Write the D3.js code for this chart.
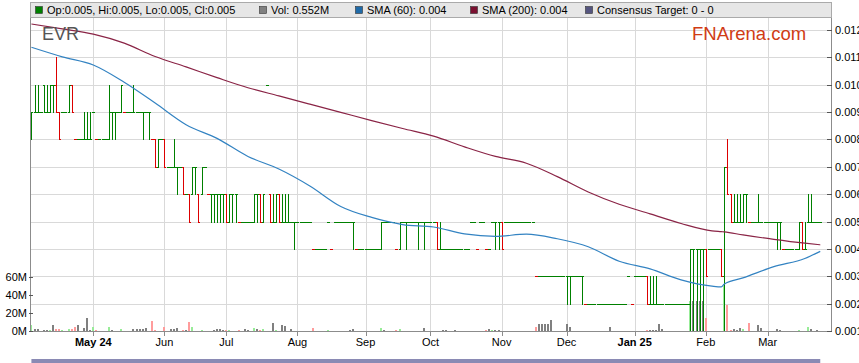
<!DOCTYPE html>
<html>
<head>
<meta charset="utf-8">
<script src="https://cdnjs.cloudflare.com/ajax/libs/d3/7.8.5/d3.min.js"></script>
<style>
  body { margin: 0; background: #fff; }
  svg { display: block; font-family: "Liberation Sans", Arial, sans-serif; }
</style>
</head>
<body>
<svg id="chart" width="859" height="363"></svg>
<script>
// prices are in units of 0.001 (one tick), volumes in millions of shares
const firstDay = new Date(2024, 3, 3); // trading days run weekday by weekday from here
const unit = 0.001;

const open = [
  8,9,9,9,10,9,9,10,10,9,  9,9,9,10,8,8,8,8,8,8,  9,8,8,8,8,8,9,9,9,9,  9,9,9,9,9,9,9,9,9,8,
  8,7,8,8,7,7,7,7,7,7,  6,6,6,7,6,6,7,6,6,6,  6,6,6,6,5,6,6,5,5,5,  5,5,5,6,6,5,10,6,5,5,
  6,5,5,5,5,5,5,5,5,5,  5,4,4,4,4,4,5,4,5,5,  5,5,5,5,5,4,4,4,4,4,  4,4,4,4,5,5,5,5,4,4,
  5,5,5,5,5,5,5,5,5,5,  5,5,4,4,4,4,4,4,4,4,  4,4,5,5,4,5,5,4,4,5,  5,5,5,5,5,5,5,5,5,5,
  5,5,5,3,3,3,3,3,3,3,  3,3,3,3,3,3,3,3,3,2,  2,2,2,2,2,2,2,2,2,2,  2,2,2,3,2,3,3,3,3,3,
  2,2,2,2,2,2,2,2,2,2,  2,2,2,2,4,4,4,4,4,4,  4,4,4,4,3,7,6,5,5,5,  5,6,5,5,5,5,5,5,5,5,
  5,5,5,4,4,4,4,4,4,5,  4,5,5,5,5,5
];
const high = [
  9,10,10,9,10,10,10,10,11,9,  9,9,10,10,8,8,8,9,9,9,  9,8,8,8,8,10,9,9,9,10,  9,9,9,10,9,9,9,9,9,8,
  8,8,8,8,7,7,8,7,7,7,  6,6,7,7,6,7,7,6,6,6,  6,6,6,6,6,6,6,5,5,5,  5,5,6,6,6,6,10,6,6,6,
  6,6,6,6,5,5,5,5,5,5,  5,4,4,4,4,4,5,4,5,5,  5,5,5,5,5,4,4,4,4,4,  4,4,4,5,5,5,5,5,4,5,
  5,5,5,5,5,5,5,5,5,5,  5,5,5,4,4,4,4,4,4,4,  4,4,5,5,4,5,5,4,4,5,  5,5,5,5,5,5,5,5,5,5,
  5,5,5,3,3,3,3,3,3,3,  3,3,3,3,3,3,3,3,3,2,  2,2,2,2,2,2,2,2,2,2,  2,2,2,3,2,3,3,3,3,3,
  3,3,3,2,2,2,2,2,2,2,  2,2,2,4,4,4,4,4,4,4,  4,4,4,4,7,8,6,6,6,6,  6,6,5,5,5,6,5,5,5,5,
  5,5,5,4,4,4,4,4,5,5,  5,6,6,5,5,5
];
const low = [
  8,9,9,9,9,9,9,9,9,8,  9,9,9,9,8,8,8,8,8,8,  9,8,8,8,8,8,8,8,9,9,  9,9,9,9,9,9,8,9,8,8,
  7,7,8,7,7,7,7,6,7,6,  6,5,6,6,5,6,7,6,5,5,  5,5,5,5,5,5,5,5,5,5,  5,5,5,5,5,5,10,5,5,5,
  5,5,5,5,5,4,5,5,5,5,  5,4,4,4,4,4,5,4,5,5,  5,5,5,5,4,4,4,4,4,4,  4,4,4,4,5,5,5,5,4,4,
  5,4,5,5,5,4,5,4,5,5,  5,4,4,4,4,4,4,4,4,4,  4,4,5,5,4,5,5,4,4,5,  4,4,4,5,5,5,5,5,5,5,
  5,5,5,3,3,3,3,3,3,3,  3,3,3,2,2,3,3,3,2,2,  2,2,2,2,2,2,2,2,2,2,  2,2,2,3,2,3,3,3,3,2,
  2,2,2,2,2,2,2,2,2,2,  2,2,2,1,1,1,1,1,3,4,  4,4,4,3,1,6,5,5,5,5,  5,5,5,5,5,5,5,5,5,5,
  5,4,4,4,4,4,4,4,4,4,  4,5,5,5,5,5
];
const close = [
  9,9,9,9,9,9,10,10,9,8,  9,9,10,9,8,8,8,8,8,8,  9,8,8,8,8,9,9,9,9,10,  9,9,9,9,9,9,9,9,9,8,
  7,8,8,7,7,7,7,7,7,6,  6,5,7,7,5,7,7,6,6,6,  6,6,6,5,6,6,6,5,5,5,  5,5,6,6,5,6,10,5,5,6,
  5,5,5,5,5,5,5,5,5,5,  5,4,4,4,4,4,5,4,5,5,  5,5,5,5,5,4,4,4,4,4,  4,4,4,5,5,5,5,5,4,5,
  5,5,5,5,5,5,5,5,5,5,  5,4,4,4,4,4,4,4,4,4,  4,4,5,5,4,5,5,4,4,5,  5,5,4,5,5,5,5,5,5,5,
  5,5,5,3,3,3,3,3,3,3,  3,3,3,3,3,3,3,3,3,2,  2,2,2,2,2,2,2,2,2,2,  2,2,2,3,2,3,3,3,3,2,
  2,2,2,2,2,2,2,2,2,2,  2,2,2,4,4,4,4,4,3,4,  4,4,4,3,7,6,5,5,5,5,  6,6,5,5,5,5,5,5,5,5,
  5,5,5,4,4,4,4,4,5,4,  4,5,5,5,5,5
];
const volume = [
  6.7,2,2,0,1.5,1.5,0.8,6.4,2.5,2.5,  1.5,0,2.5,2.5,4.5,6.5,0,3.5,14,1,  4.5,1,0,0,0,4.5,1,0,0,2.5,
  0.4,0,0,2,2,2.5,2.5,3,0,11,  1,0.5,0,4.5,0,2,2,3.5,0,1.5,  1,10,4.5,0,0.5,1,0,0.5,0,1.5,
  2,2,1.5,1.5,1,0,0,1.5,0,2.5,  1.5,0,3.5,2.5,1.5,2,0.5,0.5,9,1,  0.5,6.5,5.5,0,2,0,0,0,0,0,
  0,3.2,0,0,0,0,1,0.3,0,0,  0,0,0,1.5,2.5,0.3,0,0,0,0,  0,0,0,3.2,1.5,0,0,0,1.5,2.5,
  0,0,0,0,0,0,0,3.5,0,0,  0,0.3,0,1.5,1.5,0,0,1.5,0,0,  0,0,0,0,0,0,0,1.5,2.5,1.5,
  1.5,1.5,0,0,0,0,0,0,0,0,  0,0,0,4.5,7.7,7.7,7.7,7.7,12,0,  0,0,0,7.7,4.5,0,0,0,0,0,
  0,0,0,0,0,0,0,4.5,0,0,  0,0,0,0,0,0,0,0,0,1.5,  1.5,1.5,1.5,7.7,2.5,0,0,0,0,0,
  0,0,0,34,34,34,34,34,14,0,  0,0,0,0.5,50,29,1.5,2.5,1.5,3,  2.5,0,8.5,0,0,6.5,3.5,0,0,0,
  0,2,1,0,0,0,0,0,1,0,  0,4.5,2,0,1.5,0.552
];

// moving averages at these trading-day numbers
const smaDays = [0,10,20,30,40,50,60,70,80,90,100,110,120,130,140,150,160,170,180,190,200,210,220,223,224,230,240,250,255];
const sma60  = [11.37,11.02,10.72,10.09,9.33,8.54,8.04,7.38,6.92,6.30,5.55,5.15,4.89,4.80,4.55,4.46,4.54,4.37,4.08,3.55,3.27,2.87,2.64,2.61,2.72,2.94,3.35,3.65,3.91];
const sma200 = [12.22,12.04,11.85,11.52,11.03,10.65,10.26,9.89,9.59,9.29,8.99,8.69,8.40,8.12,7.73,7.38,7.13,6.64,6.08,5.63,5.28,4.93,4.66,4.63,4.62,4.51,4.35,4.21,4.15];

const monthLabels = ["May 24","Jun","Jul","Aug","Sep","Oct","Nov","Dec","Jan 25","Feb","Mar"];
const priceTicks = [0.001,0.002,0.003,0.004,0.005,0.006,0.007,0.008,0.009,0.010,0.011,0.012];
const volumeTicks = [0, 20, 40, 60];

const green = "#008000", red = "#dd0000";
const blue = "#3383c2", maroon = "#8a2446";

// weekday calendar for the x axis
const n = close.length;
const dates = [];
for (let d = new Date(firstDay); dates.length < n; d.setDate(d.getDate() + 1)) {
  if (d.getDay() % 6 !== 0) dates.push(new Date(d));
}
const monthStarts = [];
dates.forEach((d, i) => { if (i > 0 && d.getMonth() !== dates[i - 1].getMonth()) monthStarts.push(i); });

const plot = {left: 30.5, right: 831.5, top: 17, bottom: 331.5};
const x = d3.scaleLinear().domain([-0.23, 258.7]).range([30.7, 831.7]);
const yPrice = d3.scaleLinear().domain([0.001, 0.012]).range([331, 30]);
const yVol = d3.scaleLinear().domain([0, 60]).range([331, 277.3]);
const px = i => Math.round(x(i));
const py = v => Math.round(yPrice(v));

const svg = d3.select("#chart");
svg.append("clipPath").attr("id", "clip").append("rect")
  .attr("x", plot.left).attr("y", plot.top).attr("width", plot.right - plot.left).attr("height", plot.bottom - plot.top + 1);

// grid
const grid = svg.append("g").attr("stroke", "#d9d9d9").attr("shape-rendering", "crispEdges");
grid.selectAll("line.h").data(priceTicks.slice(1)).join("line").attr("class", "h")
  .attr("x1", plot.left).attr("x2", plot.right)
  .attr("y1", d => py(d) + 0.5).attr("y2", d => py(d) + 0.5);
grid.selectAll("line.v").data(monthStarts).join("line").attr("class", "v")
  .attr("x1", d => px(d) + 0.5).attr("x2", d => px(d) + 0.5)
  .attr("y1", plot.top).attr("y2", plot.bottom);

const chg = i => (i === 0 ? 1 : Math.sign(close[i] - close[i - 1]));

// volume bars
svg.append("g").attr("clip-path", "url(#clip)").attr("shape-rendering", "crispEdges")
  .selectAll("rect").data(d3.range(n).filter(i => volume[i] > 0)).join("rect")
  .attr("x", i => px(i) - 1).attr("width", 2)
  .attr("y", i => Math.round(yVol(volume[i])))
  .attr("height", i => 331 - Math.round(yVol(volume[i])))
  .attr("fill", i => chg(i) > 0 ? "#98ec98" : chg(i) < 0 ? "#ff9c9c" : "#808080");

// OHLC bars
const bars = svg.append("g").attr("clip-path", "url(#clip)").attr("shape-rendering", "crispEdges")
  .selectAll("g").data(d3.range(n)).join("g")
  .attr("fill", i => chg(i) < 0 ? red : green);
bars.append("rect")
  .attr("x", i => px(i)).attr("width", 1)
  .attr("y", i => py(high[i] * unit))
  .attr("height", i => py(low[i] * unit) - py(high[i] * unit) + 1);
bars.append("rect")
  .attr("x", i => px(i) - 1).attr("width", 1).attr("height", 1)
  .attr("y", i => py(open[i] * unit));
bars.append("rect")
  .attr("x", i => px(i) + 1).attr("width", 1).attr("height", 1)
  .attr("y", i => py(close[i] * unit));

// moving averages
const smaLine = vals => d3.line()
  .x((d, k) => x(d))
  .y((d, k) => yPrice(vals[k] * unit))
  .curve(d3.curveMonotoneX)(smaDays);
const lines = svg.append("g").attr("clip-path", "url(#clip)").attr("fill", "none").attr("stroke-width", 1.2);
lines.append("path").attr("d", smaLine(sma200)).attr("stroke", maroon);
lines.append("path").attr("d", smaLine(sma60)).attr("stroke", blue);

// axes
const axes = svg.append("g").attr("stroke", "#8c8c8c").attr("shape-rendering", "crispEdges");
axes.append("line").attr("x1", plot.left).attr("x2", plot.left).attr("y1", plot.top).attr("y2", plot.bottom);
axes.append("line").attr("x1", plot.right).attr("x2", plot.right).attr("y1", plot.top).attr("y2", plot.bottom);
axes.append("line").attr("x1", plot.left).attr("x2", plot.right).attr("y1", plot.bottom).attr("y2", plot.bottom);
axes.selectAll("line.rt").data(priceTicks).join("line").attr("class", "rt").attr("stroke", "#555")
  .attr("x1", 827).attr("x2", plot.right).attr("y1", d => py(d) + 0.5).attr("y2", d => py(d) + 0.5);
axes.selectAll("line.bt").data(monthStarts).join("line").attr("class", "bt")
  .attr("x1", d => px(d) + 0.5).attr("x2", d => px(d) + 0.5).attr("y1", plot.bottom).attr("y2", plot.bottom + 4);
axes.selectAll("line.vt").data(volumeTicks).join("line").attr("class", "vt").attr("stroke", "#555")
  .attr("x1", 29).attr("x2", 33).attr("y1", d => Math.round(yVol(d)) + 0.5).attr("y2", d => Math.round(yVol(d)) + 0.5);

const txt = svg.append("g").attr("font-size", 11).attr("fill", "#000");
txt.selectAll("text.p").data(priceTicks).join("text").attr("class", "p")
  .attr("x", 835).attr("y", d => py(d) + 4).text(d3.format(".3f"));
txt.selectAll("text.v").data(volumeTicks).join("text").attr("class", "v")
  .attr("x", 27).attr("y", d => yVol(d) + 4).attr("text-anchor", "end").text(d => d + "M");
txt.selectAll("text.m").data(monthStarts).join("text").attr("class", "m")
  .attr("x", d => x(d)).attr("y", 346).attr("text-anchor", "middle")
  .attr("font-weight", (d, k) => monthLabels[k].includes(" ") ? "bold" : null)
  .text((d, k) => monthLabels[k]);

// titles
svg.append("text").attr("x", 42).attr("y", 40).attr("font-size", 18).attr("fill", "#555").text("EVR");
svg.append("text").attr("x", 692).attr("y", 40).attr("font-size", 18.5).attr("fill", "#d03c14").text("FNArena.com");

// legend
const f3 = d3.format(".3f");
const last = n - 1;
const legend = [
  {c: green, t: `Op:${f3(open[last] * unit)}, Hi:${f3(high[last] * unit)}, Lo:${f3(low[last] * unit)}, Cl:${f3(close[last] * unit)}`, x: 35},
  {c: "#808080", t: `Vol: ${d3.format(".3f")(volume[last])}M`, x: 259},
  {c: "#1f6aa8", t: `SMA (60): ${f3(sma60[sma60.length - 1] * unit)}`, x: 355},
  {c: "#7a1030", t: `SMA (200): ${f3(sma200[sma200.length - 1] * unit)}`, x: 470},
  {c: "#55557f", t: "Consensus Target: 0 - 0", x: 585}
];
svg.append("rect").attr("x", plot.left).attr("y", 2.5).attr("width", plot.right - plot.left).attr("height", 15)
  .attr("fill", "#e6e6e6").attr("stroke", "#aaa").attr("shape-rendering", "crispEdges");
const items = svg.append("g").selectAll("g").data(legend).join("g");
items.append("rect").attr("x", d => d.x + 0.5).attr("y", 6.5).attr("width", 7).attr("height", 7)
  .attr("fill", d => d.c).attr("stroke", "#333").attr("stroke-width", 0.6);
items.append("text").attr("x", d => d.x + 12).attr("y", 14).attr("font-size", 11).text(d => d.t);

// navigator strip
svg.append("rect").attr("x", x(0)).attr("y", 359).attr("width", x(255) - x(0)).attr("height", 4).attr("fill", "#8a8ab4");
</script>
</body>
</html>
